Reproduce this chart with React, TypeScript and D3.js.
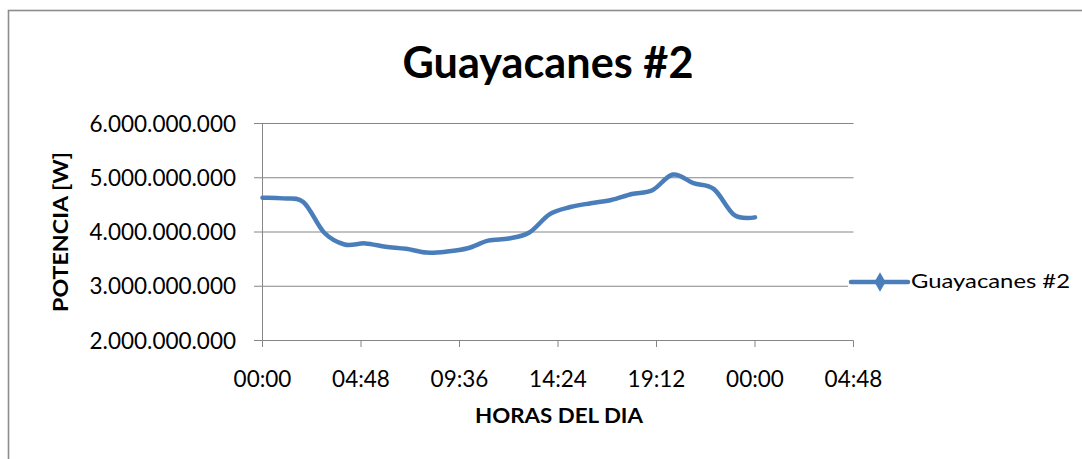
import * as d3 from "d3";

// hourly readings, Guayacanes #2
const HOURS = [0, 1, 2, 3, 4, 5, 6, 7, 8, 9, 10, 11, 12, 13, 14, 15, 16, 17, 18, 19, 20, 21, 22, 23, 24];
const POWER = [
  4.63e9, 4.62e9, 4.55e9, 3.99e9, 3.77e9, 3.79e9, 3.73e9, 3.69e9, 3.62e9, 3.64e9,
  3.70e9, 3.84e9, 3.88e9, 3.99e9, 4.33e9, 4.46e9, 4.53e9, 4.59e9, 4.70e9, 4.77e9,
  5.06e9, 4.90e9, 4.79e9, 4.31e9, 4.27e9,
];
const X_TICKS = [0, 4.8, 9.6, 14.4, 19.2, 24, 28.8];
const X_LABELS = ["00:00", "04:48", "09:36", "14:24", "19:12", "00:00", "04:48"];
const Y_TICKS = [2e9, 3e9, 4e9, 5e9, 6e9];

const SERIES = "Guayacanes #2";
const BLUE = "#4a7ebb";
const GRID = "#868686";
const FONT = "Lato, 'Open Sans', sans-serif";

const fmt = d3.formatLocale({ decimal: ",", thousands: ".", grouping: [3], currency: ["$", ""] }).format(",d");

export default function App() {
  const x = d3.scaleLinear().domain([0, 28.8]).range([262.5, 853.5]);
  const y = d3.scaleLinear().domain([2e9, 6e9]).range([340.5, 123.5]);

  const line = d3
    .line<number>()
    .x((_, i) => x(HOURS[i]))
    .y((d) => y(d))
    .curve(d3.curveCardinal.tension(0));

  const legendY = 282;

  return (
    <svg width={1082} height={459} style={{ position: "absolute", left: 0, top: 0, background: "#fff" }}>
      <rect x={8.5} y={10.5} width={1100} height={500} fill="#fff" stroke="#8c8c8c" strokeWidth={1.6} />

      <text x={548} y={78} textAnchor="middle" fontFamily={FONT} fontWeight="bold" fontSize={44}
        textLength={291} lengthAdjust="spacingAndGlyphs">
        {SERIES}
      </text>

      {/* grid + y ticks */}
      {Y_TICKS.map((t) => (
        <g key={t}>
          <line x1={254} x2={853.5} y1={y(t)} y2={y(t)} stroke={GRID} strokeWidth={1} />
          <text x={236} y={y(t) + 8} textAnchor="end" fontFamily={FONT} fontSize={22.5} fill="#000">
            {fmt(t)}
          </text>
        </g>
      ))}

      {/* y axis */}
      <line x1={x(0)} x2={x(0)} y1={123.5} y2={340.5} stroke={GRID} strokeWidth={1} />

      {/* x ticks */}
      {X_TICKS.map((t, i) => (
        <g key={i}>
          <line x1={x(t)} x2={x(t)} y1={340.5} y2={347} stroke={GRID} strokeWidth={1} />
          <text x={x(t)} y={387} textAnchor="middle" fontFamily={FONT} fontSize={22.5} fill="#000">
            {X_LABELS[i]}
          </text>
        </g>
      ))}

      <text x={559} y={423} textAnchor="middle" fontFamily={FONT} fontWeight="bold" fontSize={21}
        textLength={168} lengthAdjust="spacingAndGlyphs">
        HORAS DEL DIA
      </text>

      <text transform="translate(68,232) rotate(-90)" textAnchor="middle" fontFamily={FONT} fontWeight="bold"
        fontSize={21} textLength={160} lengthAdjust="spacingAndGlyphs">
        POTENCIA [W]
      </text>

      <path d={line(POWER) ?? ""} fill="none" stroke={BLUE} strokeWidth={4.5} strokeLinecap="round" strokeLinejoin="round" />

      {/* legend */}
      <rect x={848} y={268} width={230} height={30} fill="#fff" />
      <line x1={851} x2={908} y1={legendY} y2={legendY} stroke={BLUE} strokeWidth={4.5} strokeLinecap="round" />
      <path d={d3.symbol(d3.symbolDiamond, 110)() ?? ""} transform={`translate(880,${legendY})`} fill={BLUE} />
      <text x={911} y={legendY + 6} fontFamily={FONT} fontSize={19} textLength={159} lengthAdjust="spacingAndGlyphs">
        {SERIES}
      </text>
    </svg>
  );
}
